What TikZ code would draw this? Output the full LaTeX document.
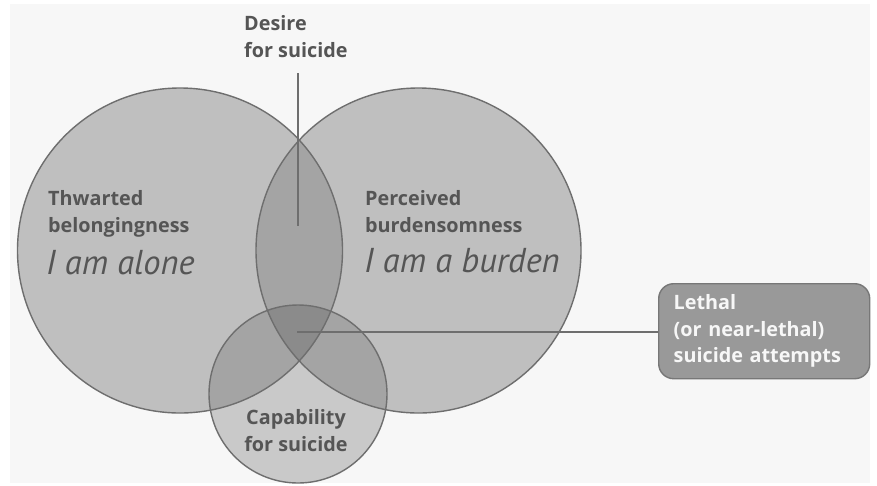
\documentclass[tikz,border=0pt]{standalone}
\usepackage{fontspec}
\setmainfont{PT Sans}
\newfontfamily\labfont{Open Sans}
\begin{document}
\begin{tikzpicture}[x=1pt,y=-1pt,
  lbl/.style={inner sep=0pt, align=left, text=labtext, font=\labfont\bfseries\fontsize{19.8}{26.5}\selectfont},
  big/.style={inner sep=0pt, text=labtext, font=\itshape\fontsize{34.5}{36}\selectfont},
  edge/.style={draw=outl, line width=1.4pt},
  boxstyle/.style={draw=boxline, fill=boxfill, line width=1.4pt, rounded corners=15pt,
     text width=181pt, inner xsep=15pt, minimum height=95pt, align=left, text=boxtext,
     font=\labfont\bfseries\fontsize{19.8}{26.5}\selectfont}]
\definecolor{bg}{HTML}{F7F7F7}
\definecolor{cA}{HTML}{BFBFBF}
\definecolor{cS}{HTML}{C9C9C9}
\definecolor{cAB}{HTML}{A4A4A4}
\definecolor{cABC}{HTML}{8B8B8B}
\definecolor{outl}{HTML}{6E6E6E}
\definecolor{labtext}{HTML}{555555}
\definecolor{boxfill}{HTML}{999999}
\definecolor{boxline}{HTML}{777777}
\definecolor{boxtext}{HTML}{F7F7F7}
\useasboundingbox (0,0) rectangle (877,485);
\fill[white] (0,0) rectangle (877,485);
\fill[bg] (10,4) rectangle (870,483);
\coordinate (L) at (180,250.5);
\coordinate (R) at (418.5,250.5);
\coordinate (S) at (298,394);
% fills
\fill[cA] (L) circle (162.5pt);
\fill[cA] (R) circle (162.5pt);
\fill[cS] (S) circle (89pt);
\begin{scope}
  \clip (L) circle (162.5pt);
  \fill[cAB] (R) circle (162.5pt);
  \fill[cAB] (S) circle (89pt);
\end{scope}
\begin{scope}
  \clip (R) circle (162.5pt);
  \fill[cAB] (S) circle (89pt);
\end{scope}
\begin{scope}
  \clip (L) circle (162.5pt);
  \clip (R) circle (162.5pt);
  \fill[cABC] (S) circle (89pt);
\end{scope}
% outlines
\draw[edge] (L) circle (162.5pt);
\draw[edge] (R) circle (162.5pt);
\draw[edge] (S) circle (89pt);
% labels
\node[lbl, anchor=base west] (desire) at (244,57) {Desire\\for suicide};
\node[lbl, anchor=base west] (thw) at (48,232) {Thwarted\\belongingness};
\node[big, anchor=base west] (alone) at (46,274) {I am alone};
\node[lbl, anchor=base west] (perc) at (365,232) {Perceived\\burdensomness};
\node[big, anchor=base west] (burden) at (364,272) {I am a burden};
\node[lbl, anchor=base, align=center] (cap) at (296,451) {Capability\\for suicide};
\node[boxstyle, anchor=north west] (box) at (658,283) {Lethal\\(or near-lethal)\\suicide attempts};
% connectors
\coordinate (dtop) at (298,73);
\coordinate (dbot) at (298,226);
\coordinate (hstart) at (297,332);
\draw[edge] (dtop) -- (dbot);
\draw[edge] (hstart) -- (hstart -| box.west);
\end{tikzpicture}
\end{document}
